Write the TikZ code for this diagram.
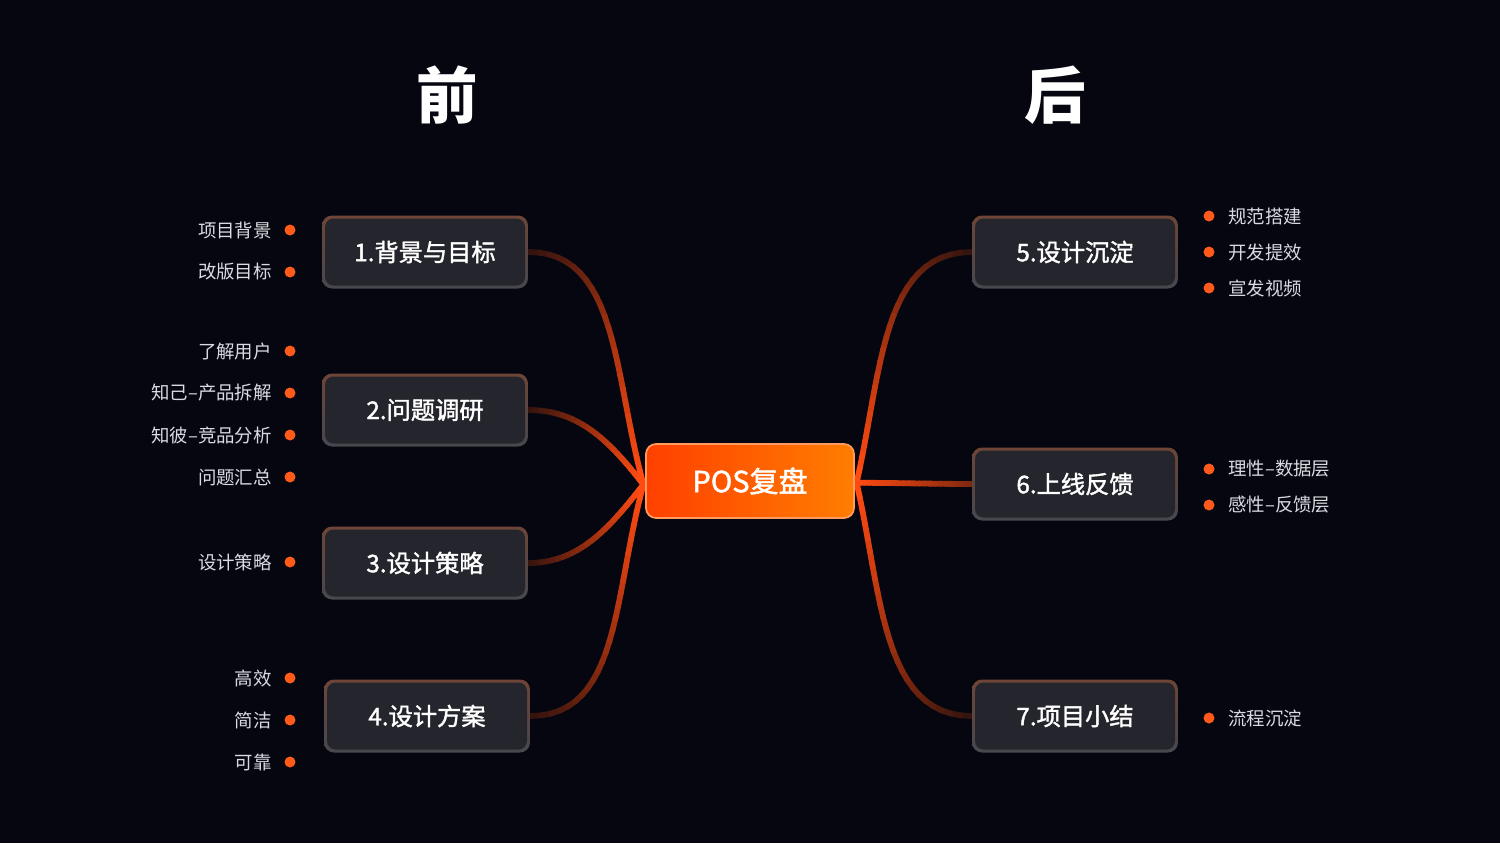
\documentclass[tikz,border=0pt]{standalone}
\usepackage{fontspec}
\setmainfont{Noto Sans CJK SC}
\newfontfamily\midfont{Noto Sans CJK SC}[FakeBold=1.6]
\usetikzlibrary{backgrounds}

\definecolor{bg}{HTML}{05060F}
\definecolor{boxfill}{HTML}{25262D}
\definecolor{edgetop}{HTML}{6E4537}
\definecolor{edgebot}{HTML}{46474E}
\definecolor{linkdark}{HTML}{2E120E}
\definecolor{linkbright}{HTML}{FF4A12}
\definecolor{hubleft}{HTML}{FF4000}
\definecolor{hubright}{HTML}{FF7D00}
\definecolor{hubedge}{HTML}{FF9B5E}
\definecolor{dotc}{HTML}{FF5A1A}
\definecolor{leafc}{HTML}{DADAE0}

\begin{document}
\begin{tikzpicture}[
    x=0.02cm,
    y=-0.02cm,
    every node/.style={text=white},
    box/.style={rounded corners=0.2cm, minimum width=4.12cm, minimum height=1.46cm,
      font=\midfont\fontsize{13.8}{16}\selectfont,
      path picture={
        \shade[top color=edgetop, bottom color=edgebot]
          (path picture bounding box.south west) rectangle (path picture bounding box.north east);
        \fill[boxfill, rounded corners=0.17cm]
          ([shift={(1.7pt,1.7pt)}]path picture bounding box.south west) rectangle
          ([shift={(-1.7pt,-1.7pt)}]path picture bounding box.north east);
      }},
    hub/.style={rounded corners=0.2cm, minimum width=4.16cm, minimum height=1.48cm,
      left color=hubleft, right color=hubright, draw=hubedge, line width=1pt,
      font=\midfont\fontsize{16.5}{20}\selectfont},
    title/.style={font=\bfseries\fontsize{35}{40}\selectfont},
    leaf/.style={text=leafc, font=\fontsize{10.5}{13}\selectfont},
    dot/.style={circle, fill=dotc, inner sep=0pt, minimum size=0.22cm},
    link/.style={line width=3.3pt, line cap=round}
  ]
    \useasboundingbox (0,0) rectangle (1500,843);
    \node[title] (pre) at (447,95) {前};
    \node[title] (post) at (1055,95) {后};
    \node[hub] (hub) at (750,481) {POS复盘};
    \node[box] (b1) at (425,252) {1.背景与目标};
    \node[box] (b2) at (425,410) {2.问题调研};
    \node[box] (b3) at (425,563) {3.设计策略};
    \node[box] (b4) at (427,716) {4.设计方案};
    \node[box] (b5) at (1075,252) {5.设计沉淀};
    \node[box] (b6) at (1075,484) {6.上线反馈};
    \node[box] (b7) at (1075,716) {7.项目小结};
    \coordinate (inL) at ([xshift=-1pt,yshift=-2pt]hub.west);
    \coordinate (inR) at ([xshift=1pt,yshift=-1pt]hub.east);
    \foreach \y/\t [count=\k] in {230/项目背景, 272/改版目标, 351/了解用户, 393/知己–产品拆解,
        435/知彼–竞品分析, 477/问题汇总, 562/设计策略, 678/高效, 720/简洁, 762/可靠} {
      \node[dot] (ld\k) at (290,\y) {};
      \node[leaf, anchor=east] (lt\k) at (278,\y) {\t};
    }
    \foreach \y/\t [count=\k] in {216/规范搭建, 252/开发提效, 288/宣发视频,
        469/理性–数据层, 505/感性–反馈层, 718/流程沉淀} {
      \node[dot] (rd\k) at (1209,\y) {};
      \node[leaf, anchor=west] (rt\k) at (1222,\y) {\t};
    }
    \begin{scope}[on background layer]
      \fill[bg] (0,0) rectangle (1500,843);
      \foreach \from/\fa/\to/\ax/\ay/\bx/\by/\lo in {
          b1/east/inL/90/0/-30/-110/0, b2/east/inL/50/0/-35/-45/0,
          b3/east/inL/50/0/-35/45/0, b4/east/inL/90/0/-30/110/0,
          b5/west/inR/-90/0/25/-110/0, b6/west/inR/-30/0/30/0/35,
          b7/west/inR/-90/0/25/110/0} {
        \path (\from.\fa) .. controls +(\ax,\ay) and +(\bx,\by) .. (\to)
          \foreach \i in {0,...,24} {coordinate[pos=\i/24] (g\i)};
        \foreach \i [evaluate=\i as \j using int(\i-1),
            evaluate=\i as \p using int(\lo+(100-\lo)*\i/24)] in {1,...,24}
          \draw[link, linkbright!\p!linkdark] (g\j) -- (g\i);
      }
    \end{scope}
  \end{tikzpicture}
\end{document}
